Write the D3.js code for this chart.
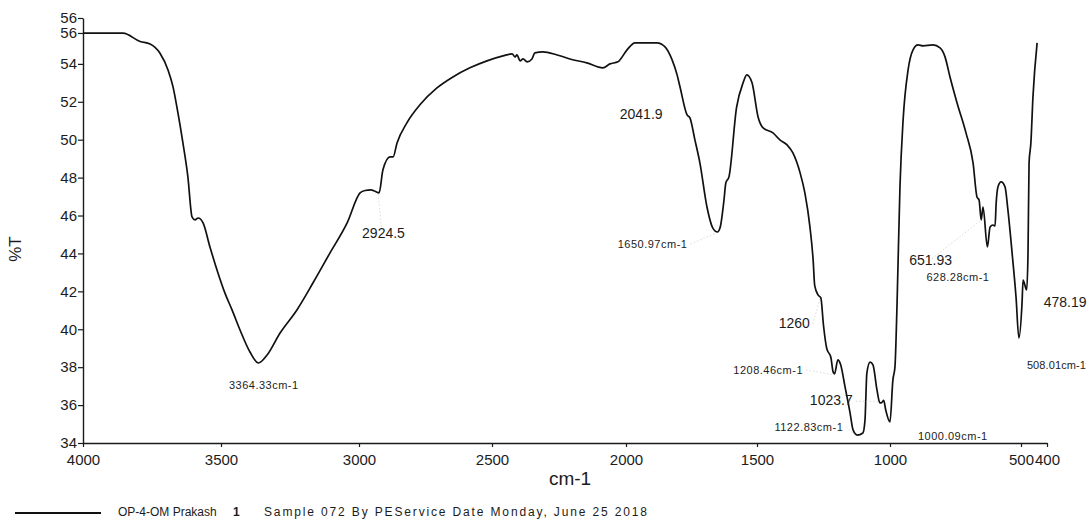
<!DOCTYPE html>
<html>
<head>
<meta charset="utf-8">
<script src="https://cdn.jsdelivr.net/npm/d3@7"></script>
<style>
  html, body { margin: 0; padding: 0; background: #ffffff; }
  svg { display: block; font-family: "Liberation Sans", Arial, sans-serif; }
</style>
</head>
<body>
<script>
// FT-IR spectrum: wavenumber (cm-1) vs transmittance (%T)
const wavenumber = [
  4000, 3855, 3793, 3757, 3721, 3692, 3674, 3656, 3638, 3620, 3605, 3594, 3583, 3565,
  3540, 3511, 3486, 3460, 3431, 3395, 3364.33, 3333, 3286, 3225, 3167, 3105, 3043,
  2996, 2977, 2955, 2940, 2924.5, 2910, 2883, 2872, 2857, 2820, 2771, 2707, 2647, 2583,
  2519, 2459, 2425, 2414, 2407, 2395, 2384, 2369, 2351, 2340, 2310, 2257, 2209, 2146,
  2086, 2060, 2030, 1996, 1966, 1882, 1851, 1824, 1805, 1794, 1767, 1756, 1737, 1718,
  1691, 1669, 1650.97, 1641, 1626, 1619, 1607, 1578, 1553, 1539, 1519, 1496, 1477,
  1440, 1414, 1387, 1365, 1338, 1320, 1301, 1289, 1283, 1270, 1260, 1250, 1238, 1222,
  1214, 1208.46, 1196, 1186, 1169, 1150, 1139, 1122.83, 1102, 1094, 1087, 1075, 1064,
  1049, 1038, 1030, 1023.7, 1016, 1000.09, 989, 981, 973, 962, 950, 931, 912, 893, 874,
  836, 809, 790, 771, 744, 710, 683, 668, 660, 651.93, 645, 628.28, 618, 607, 599, 595,
  588, 576, 561, 550, 534, 519, 508.01, 496, 492, 478.19, 473, 469, 462, 454, 438
];
const transmittance = [
  55.62, 55.62, 55.18, 55.05, 54.56, 53.68, 52.80, 51.41, 49.83, 48.04, 45.93, 45.77, 45.87, 45.61,
  44.34, 42.97, 41.92, 41.02, 39.96, 38.80, 38.22, 38.64, 39.80, 41.02, 42.44, 44.03, 45.61,
  47.19, 47.32, 47.35, 47.28, 47.20, 48.41, 49.09, 49.09, 49.83, 50.89, 51.84, 52.73, 53.31, 53.79,
  54.16, 54.42, 54.53, 54.37, 54.47, 54.16, 54.26, 54.11, 54.26, 54.58, 54.63, 54.47, 54.26, 54.05,
  53.79, 54.00, 54.11, 54.74, 55.11, 55.11, 54.90, 54.21, 53.42, 52.79, 51.31, 51.15, 49.99, 48.78,
  46.45, 45.35, 45.13, 45.35, 46.82, 47.72, 48.04, 51.70, 53.00, 53.42, 53.00, 51.20, 50.62,
  50.36, 49.99, 49.73, 49.30, 48.25, 47.19, 45.40, 43.66, 42.30, 41.80, 41.65, 40.20, 39.00, 38.50,
  37.75, 37.65, 38.38, 38.15, 36.96, 35.58, 34.69, 34.42, 34.53, 35.21, 37.69, 38.27, 38.12,
  36.80, 36.11, 36.15, 36.25, 35.74, 35.11, 37.32, 38.03, 41.39, 47.51, 51.04, 53.68, 54.74, 55.00, 54.95,
  55.00, 54.84, 54.37, 53.31, 51.94, 50.36, 48.78, 46.98, 46.82, 45.77, 46.45, 44.34, 45.40, 45.50, 45.45, 46.60,
  47.51, 47.77, 47.51, 46.30, 44.03, 41.70, 39.54, 41.39, 42.60, 42.07, 44.03, 48.78, 49.83, 52.26, 55.11
];

// Axis ticks
const xTicks = [4000, 3500, 3000, 2500, 2000, 1500, 1000, 500, 400];
const yTicks = [34, 36, 38, 40, 42, 44, 46, 48, 50, 52, 54, 55.63, 56.42];

// Peak annotations
const peakLabels = ["3364.33cm-1", "2924.5", "2041.9", "1650.97cm-1", "1260", "1208.46cm-1",
  "1122.83cm-1", "1023.7", "1000.09cm-1", "651.93", "628.28cm-1", "508.01cm-1", "478.19"];
const peakWavenumbers = [3364.33, 2924.5, 2041.9, 1650.97, 1260, 1208.46,
  1122.83, 1023.7, 1000.09, 651.93, 628.28, 508.01, 478.19];

const legendName = "OP-4-OM Prakash";
const legendIndex = "1";
const legendInfo = "Sample 072 By PEService Date Monday, June 25 2018";

const W = 1088, H = 520;
const svg = d3.select("body").append("svg").attr("width", W).attr("height", H);

// The wavenumber axis of the printout is very slightly non-uniform; pin each labelled tick
const x = d3.scaleLinear()
  .domain([4000, 3500, 3000, 2500, 2000, 1500, 1000, 500, 400])
  .range([83, 221, 359, 492, 626, 757, 890, 1021, 1047]);
const y = d3.scaleLinear().domain([34, 56.42]).range([443, 18]);

const data = wavenumber.map((w, i) => ({ w, t: transmittance[i] }));
const tAt = w => transmittance[wavenumber.indexOf(w)];

// Axes
const xAxis = d3.axisBottom(x).tickValues(xTicks).tickFormat(d3.format("d"))
  .tickSize(4).tickSizeOuter(0).tickPadding(7);
const gx = svg.append("g").attr("transform", "translate(0,443)").call(xAxis);
gx.selectAll("text").attr("font-size", 15).attr("fill", "#1c1c1c")
  .attr("font-family", "Liberation Sans, Arial, sans-serif");

const yAxis = d3.axisLeft(y).tickValues(yTicks).tickFormat(d3.format(".0f"))
  .tickSize(5).tickSizeOuter(0).tickPadding(1);
const gy = svg.append("g").attr("transform", "translate(83,0)").call(yAxis);
gy.selectAll("text").attr("font-size", 15).attr("fill", "#1c1c1c")
  .attr("font-family", "Liberation Sans, Arial, sans-serif");

[gx, gy].forEach(g => {
  g.select(".domain").attr("stroke", "#1a1a1a").attr("stroke-width", 1.4);
  g.selectAll(".tick line").attr("stroke", "#1a1a1a").attr("stroke-width", 1.2);
});

// Axis titles
svg.append("text").attr("x", 570).attr("y", 485).attr("text-anchor", "middle")
  .attr("font-size", 19).attr("fill", "#1c1c1c").text("cm-1");
svg.append("text").attr("transform", "translate(21,249) rotate(-90)")
  .attr("text-anchor", "middle").attr("font-size", 17).attr("fill", "#1c1c1c").text("%T");

// Spectrum trace
const line = d3.line().x(d => x(d.w)).y(d => y(d.t)).curve(d3.curveMonotoneX);
svg.append("path").datum(data).attr("d", line)
  .attr("fill", "none").attr("stroke", "#111").attr("stroke-width", 1.7)
  .attr("stroke-linejoin", "round");

// Annotation placement relative to each peak (text anchor, dx, dy, leader line)
const layout = {
  "3364.33":  { anchor: "start", dx: -29.5, dy: 26 },
  "2924.5":   { anchor: "start", dx: -17, dy: 45, lead: true },
  "2041.9":   { anchor: "start", dx: 5, dy: 57 },
  "1650.97":  { anchor: "end", dx: -30, dy: 16, lead: true },
  "1260":     { anchor: "end", dx: -11, dy: 30, lead: true },
  "1208.46":  { anchor: "end", dx: -31.5, dy: 0, lead: true },
  "1122.83":  { anchor: "end", dx: -14, dy: -4, lead: true },
  "1023.7":   { anchor: "end", dx: -31, dy: 5, lead: true },
  "1000.09":  { anchor: "start", dx: 28, dy: 18 },
  "651.93":   { anchor: "start", dx: -72, dy: 45, lead: true },
  "628.28":   { anchor: "start", dx: -61, dy: 34 },
  "508.01":   { anchor: "start", dx: 8, dy: 31, spacing: "0.1px" },
  "478.19":   { anchor: "start", dx: 17, dy: 17 }
};

const ann = svg.append("g");
peakLabels.forEach((label, i) => {
  const w = peakWavenumbers[i];
  let t = tAt(w);
  if (t === undefined) t = 54.08;
  const px = x(w), py = y(t);
  const L = layout[String(w)];
  const small = label.endsWith("cm-1");
  const tx = px + L.dx, ty = py + L.dy;
  if (L.lead) {
    const ex = L.anchor === "end" ? tx + 3 : tx + 20;
    ann.append("line").attr("x1", ex).attr("y1", ty - 4).attr("x2", px - 1).attr("y2", py + 1)
      .attr("stroke", "#d0d0d0").attr("stroke-width", 0.8).attr("stroke-dasharray", "1.5,2");
  }
  ann.append("text").attr("x", tx).attr("y", ty)
    .attr("text-anchor", L.anchor)
    .attr("font-size", small ? 11 : 14)
    .attr("letter-spacing", small ? (L.spacing || "0.5px") : null)
    .attr("fill", "#1c1c1c")
    .text(label);
});

// Legend
svg.append("line").attr("x1", 15).attr("x2", 101).attr("y1", 513).attr("y2", 513)
  .attr("stroke", "#111").attr("stroke-width", 2);
svg.append("text").attr("x", 118).attr("y", 516).attr("font-size", 12)
  .attr("fill", "#1c1c1c").text(legendName);
svg.append("text").attr("x", 233).attr("y", 516).attr("font-size", 12)
  .attr("font-weight", "bold").attr("fill", "#1c1c1c").text(legendIndex);
svg.append("text").attr("x", 264).attr("y", 516).attr("font-size", 12)
  .attr("textLength", 383).attr("lengthAdjust", "spacing")
  .attr("fill", "#1c1c1c").text(legendInfo);
</script>
</body>
</html>
